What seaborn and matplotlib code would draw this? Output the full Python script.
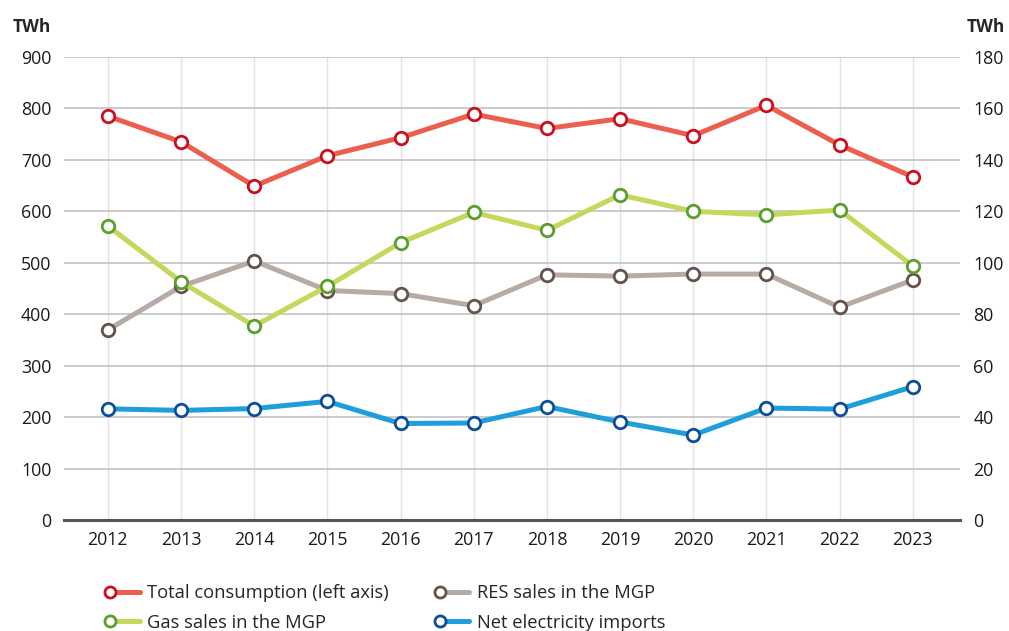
import pandas as pd
import matplotlib
matplotlib.use("Agg")
import matplotlib.pyplot as plt
import seaborn as sns
from matplotlib.lines import Line2D
from matplotlib.legend_handler import HandlerLine2D

sns.set_theme(style="white")
plt.rcParams['font.family'] = ['Open Sans', 'DejaVu Sans']

years = ['2012', '2013', '2014', '2015', '2016', '2017', '2018', '2019', '2020', '2021', '2022', '2023']
total_consumption = [785, 735, 649, 708, 743, 789, 761, 780, 747, 806, 729, 667]
gas_sales = [114.3, 92.6, 75.4, 90.8, 107.8, 119.6, 112.6, 126.4, 120.0, 118.6, 120.5, 98.8]
res_sales = [73.9, 90.8, 100.7, 89.2, 88.0, 83.3, 95.3, 94.8, 95.6, 95.6, 82.7, 93.3]
net_imports = [43.2, 42.6, 43.3, 46.1, 37.5, 37.7, 44.1, 38.1, 33.0, 43.5, 43.1, 51.8]

left_ticks = [0, 100, 200, 300, 400, 500, 600, 700, 800, 900]
right_ticks = [0, 20, 40, 60, 80, 100, 120, 140, 160, 180]

df = pd.DataFrame({'year': years, 'total': total_consumption, 'gas': gas_sales,
                   'res': res_sales, 'imports': net_imports})

# (column, label, line colour, marker edge colour, axis)
series = [
    ('total', 'Total consumption (left axis)', '#EC5E4E', '#C8101E', 'left'),
    ('res', 'RES sales in the MGP', '#B7ABA6', '#65524C', 'right'),
    ('gas', 'Gas sales in the MGP', '#C6D75C', '#5A9E2E', 'right'),
    ('imports', 'Net electricity imports', '#1E9FDB', '#0C4E9B', 'right'),
]


class LeftMarker(HandlerLine2D):
    def create_artists(self, legend, orig_handle, xdescent, ydescent, width, height, fontsize, trans):
        arts = super().create_artists(legend, orig_handle, xdescent, ydescent, width, height, fontsize, trans)
        for a in arts:
            a.set_markevery([0])
        return arts


fig = plt.figure(figsize=(10.09, 6.31), dpi=100)
ax = fig.add_axes([0.0634, 0.176, 0.8876, 0.7337])
ax2 = ax.twinx()

handles = {}
for col, label, lc, mc, side in series:
    target = ax if side == 'left' else ax2
    sns.lineplot(data=df, x='year', y=col, ax=target, color=lc, linewidth=3.6,
                 marker='o', markersize=9, markerfacecolor='white',
                 markeredgecolor=mc, markeredgewidth=2.0, sort=False, zorder=3)
    handles[col] = Line2D([], [], color=lc, linewidth=3.6, marker='o', markersize=8,
                          markerfacecolor='white', markeredgecolor=mc, markeredgewidth=2.0)

for a in (ax, ax2):
    a.set_xlim(-0.6, len(years) - 0.36)
    a.set_xlabel('')
    a.set_ylabel('')
    for s in a.spines.values():
        s.set_visible(False)
    a.tick_params(length=0, labelsize=12.8, colors='#1a1a1a')

ax.set_ylim(0, 900)
ax.set_yticks(left_ticks)
ax2.set_ylim(0, 180)
ax2.set_yticks(right_ticks)
ax.tick_params(axis='y', pad=9)
ax2.tick_params(axis='y', pad=10)
ax.tick_params(axis='x', pad=8)

ax.grid(axis='y', color='#BDBDBD', linewidth=1.1)
ax.grid(axis='x', color='#E3E3E3', linewidth=1.0)
ax2.grid(False)
ax.set_axisbelow(True)
ax.spines['bottom'].set_visible(True)
ax.spines['bottom'].set_color('#555555')
ax.spines['bottom'].set_linewidth(2.2)
ax.spines['bottom'].set_zorder(2)

fig.text(0.013, 0.957, 'TWh', fontsize=12.5, fontweight='bold', ha='left', va='center')
fig.text(0.958, 0.957, 'TWh', fontsize=12.5, fontweight='bold', ha='left', va='center')

order = ['total', 'gas', 'res', 'imports']
labels = {c: l for c, l, *_ in series}
fig.legend([handles[c] for c in order], [labels[c] for c in order],
           ncol=2, loc='lower left', bbox_to_anchor=(0.093, -0.027), frameon=False,
           fontsize=13.2, handlelength=1.6, handletextpad=0.4, columnspacing=2.8,
           labelspacing=0.62, handler_map={Line2D: LeftMarker(numpoints=1)})

fig.savefig('out.png', dpi=100, facecolor='white')
